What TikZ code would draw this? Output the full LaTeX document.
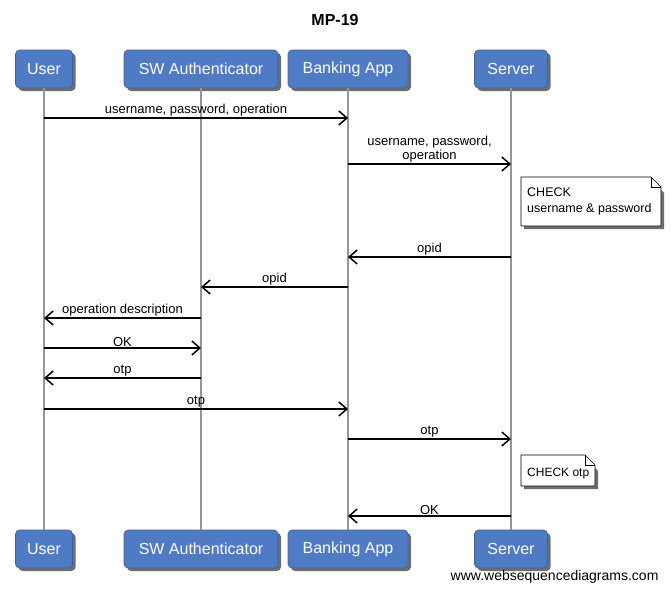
\documentclass[tikz,border=0pt]{standalone}
\usepackage{fontspec}
\setmainfont{Liberation Sans}
\usetikzlibrary{arrows.meta,calc}
\definecolor{boxblue}{RGB}{79,122,196}
\definecolor{lifegray}{RGB}{150,150,150}
\definecolor{shadowgray}{RGB}{110,110,110}
\begin{document}
\begin{tikzpicture}[x=1pt,y=-1pt,
  actor/.style={draw=boxblue!80!black,line width=0.6pt,fill=boxblue,rounded corners=4pt,text=white,
    font=\fontsize{16}{18}\selectfont,minimum height=38pt,inner xsep=0pt,anchor=center},
  lifeline/.style={draw=lifegray,line width=1.6pt},
  msg/.style={draw=black,line width=1.5pt,-{Straight Barb[length=8pt,width=14pt,line width=1.5pt]}},
  mlabel/.style={font=\fontsize{13}{14.5}\selectfont,inner sep=0pt,align=center},
  notebox/.style={font=\fontsize{12.5}{16}\selectfont,inner sep=0pt,align=left,anchor=north west}]
\useasboundingbox (0,0) rectangle (671,592);
\fill[white] (0,0) rectangle (671,592);
\node[font=\bfseries\fontsize{16}{18}\selectfont] (title) at (335,20) {MP-19};
% shadows for actor boxes
\foreach \cx/\w/\yy in {44/57/69,201/154/69,348/120/69,511/73/69,44/57/549,201/154/549,348/120/549,511/73/549}{
  \fill[shadowgray,rounded corners=4pt] (\cx-\w/2+3,\yy-19+3) rectangle (\cx+\w/2+3,\yy+19+3);
}
\node[actor,minimum width=57pt] (uT) at (44,69) {User};
\node[actor,minimum width=154pt] (sT) at (201,69) {SW Authenticator};
\node[actor,minimum width=120pt] (bT) at (348,69) {Banking App};
\node[actor,minimum width=73pt] (vT) at (511,69) {Server};
\node[actor,minimum width=57pt] (uB) at (44,549) {User};
\node[actor,minimum width=154pt] (sB) at (201,549) {SW Authenticator};
\node[actor,minimum width=120pt] (bB) at (348,549) {Banking App};
\node[actor,minimum width=73pt] (vB) at (511,549) {Server};
% lifelines
\draw[lifeline] (uT.south) -- (uB.north);
\draw[lifeline] (sT.south) -- (sB.north);
\draw[lifeline] (bT.south) -- (bB.north);
\draw[lifeline] (vT.south) -- (vB.north);
% message end points
\foreach \n/\y in {1/118,2/164,4/257,5/287,6/318,7/348,8/378,9/409,10/439,12/516}{
  \coordinate (u\n) at (44,\y);
  \coordinate (s\n) at (201,\y);
  \coordinate (b\n) at (348,\y);
  \coordinate (v\n) at (511,\y);
}
\draw[msg] (u1) -- (b1) node[mlabel,midway,above=1pt] (l1) {username, password, operation};
\draw[msg] (b2) -- (v2) node[mlabel,midway,above=1pt] (l2) {username, password,\\operation};
% note 1
\fill[shadowgray] (524,180) -- (651,180) -- (664,193) -- (664,229) -- (524,229) -- cycle;
\draw[fill=white,line width=0.6pt] (521,177) -- (651,177) -- (661,187) -- (661,226) -- (521,226) -- cycle;
\draw[line width=0.6pt] (651,177) -- (651,187) -- (661,187);
\node[notebox] (n1) at (527,188) {CHECK\\username \& password};
\draw[msg] (v4) -- (b4) node[mlabel,midway,above=1pt] (l4) {opid};
\draw[msg] (b5) -- (s5) node[mlabel,midway,above=1pt] (l5) {opid};
\draw[msg] (s6) -- (u6) node[mlabel,midway,above=1pt] (l6) {operation description};
\draw[msg] (u7) -- (s7) node[mlabel,midway,above=1pt] (l7) {OK};
\draw[msg] (s8) -- (u8) node[mlabel,midway,above=1pt] (l8) {otp};
\draw[msg] (u9) -- (b9) node[mlabel,midway,above=1pt] (l9) {otp};
\draw[msg] (b10) -- (v10) node[mlabel,midway,above=1pt] (l10) {otp};
% note 2
\fill[shadowgray] (524,458) -- (585,458) -- (598,471) -- (598,489) -- (524,489) -- cycle;
\draw[fill=white,line width=0.6pt] (521,455) -- (585,455) -- (595,465) -- (595,486) -- (521,486) -- cycle;
\draw[line width=0.6pt] (585,455) -- (585,465) -- (595,465);
\node[notebox,anchor=west,font=\fontsize{12}{14}\selectfont] (n2) at (527,474) {CHECK otp};
\draw[msg] (v12) -- (b12) node[mlabel,midway,above=1pt] (l12) {OK};
\node[font=\fontsize{14}{16}\selectfont,anchor=east] (foot) at (662,577) {www.websequencediagrams.com};
\end{tikzpicture}
\end{document}
